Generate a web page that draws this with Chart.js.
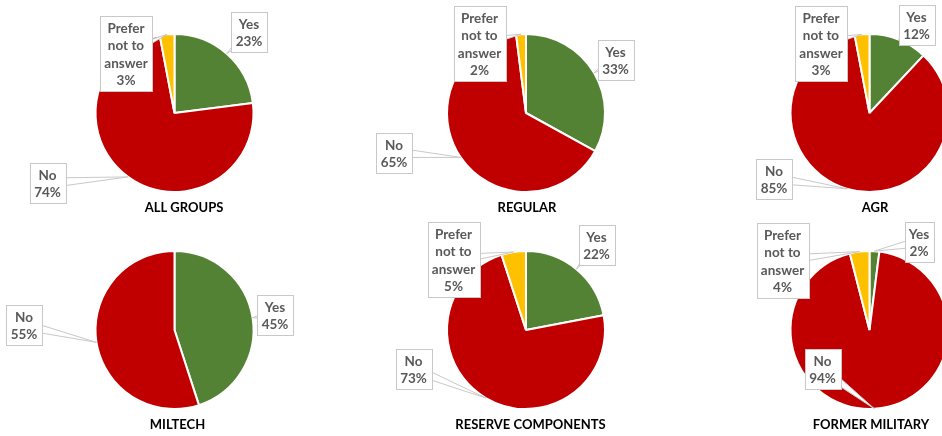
<!DOCTYPE html>
<html>
<head>
<meta charset="utf-8">
<script src="https://cdn.jsdelivr.net/npm/chart.js@4.4.0/dist/chart.umd.min.js"></script>
<style>
html, body { margin: 0; padding: 0; background: #fff; overflow: hidden; }
#wrap { position: relative; width: 942px; height: 436px; overflow: hidden; }
#wrap canvas { position: absolute; left: 0; top: 0; }
</style>
</head>
<body>
<div id="wrap"></div>
<script>
// Daten
const categories = ['Yes', 'No', 'Prefer not to answer'];
const categoryLines = [['Yes'], ['No'], ['Prefer', 'not to', 'answer']];
const groups = ['ALL GROUPS', 'REGULAR', 'AGR', 'MILTECH', 'RESERVE COMPONENTS', 'FORMER MILITARY'];

const allGroups = [23, 74, 3];
const regular = [33, 65, 2];
const agr = [12, 85, 3];
const miltech = [45, 55, 0];
const reserveComponents = [22, 73, 5];
const formerMilitary = [2, 94, 4];
const groupValues = [allGroups, regular, agr, miltech, reserveComponents, formerMilitary];

const colors = ['#548235', '#C00000', '#FFC000'];

// Layout (Pixel)
const W = 960, H = 436, R = 79;
const pieCenters = [[174.5, 113], [526, 113], [869.5, 113], [174.5, 330], [526, 330], [869.5, 330]];
const titlePos = [[184, 208], [527, 208], [875, 208], [177.5, 425], [530.5, 425], [871, 425]];
// Mittelpunkte der Beschriftungsboxen: Yes, No, Prefer
const boxCenters = [
    [[249, 32], [47.5, 183], [126, 53]],
    [[615.5, 60], [394, 152.5], [479.5, 43]],
    [[916.5, 25], [774, 178.5], [821, 43]],
    [[275, 315], [24, 325], null],
    [[596.5, 245], [413.5, 369], [453.5, 259.5]],
    [[919, 242], [822.5, 369], [782.5, 260]]
];

const FONT = 'bold 13.5px Lato, "Liberation Sans", sans-serif';
const LINE_H = 17.5;

function makeCallouts(g) {
    return {
        id: 'callouts' + g,
        afterDatasetsDraw(chart) {
            const ctx = chart.ctx;
            const meta = chart.getDatasetMeta(0);
            const values = chart.data.datasets[0].data;
            ctx.save();
            ctx.font = FONT;
            ctx.lineWidth = 1;
            ctx.strokeStyle = '#c8c8c8';
            meta.data.forEach((arc, i) => {
                const bc = boxCenters[g][i];
                if (!values[i] || !bc) return;
                const p = arc.getProps(['x', 'y', 'startAngle', 'endAngle', 'outerRadius'], true);
                const mid = (p.startAngle + p.endAngle) / 2;
                const tx = p.x + Math.cos(mid) * p.outerRadius;
                const ty = p.y + Math.sin(mid) * p.outerRadius;

                const lines = categoryLines[i].concat([values[i] + '%']);
                const tw = Math.max(...lines.map(l => ctx.measureText(l).width));
                const bw = Math.round(tw + 9);
                const bh = Math.round(lines.length * LINE_H + 5);
                const bx = Math.round(bc[0] - bw / 2) + 0.5;
                const by = Math.round(bc[1] - bh / 2) + 0.5;

                // Zeiger (Keil)
                const dx = tx - bc[0], dy = ty - bc[1];
                const len = Math.hypot(dx, dy) || 1;
                const nx = -dy / len * 5, ny = dx / len * 5;
                ctx.beginPath();
                ctx.moveTo(bc[0] + nx, bc[1] + ny);
                ctx.lineTo(tx, ty);
                ctx.lineTo(bc[0] - nx, bc[1] - ny);
                ctx.closePath();
                ctx.fillStyle = '#fff';
                ctx.fill();
                ctx.stroke();

                // Box
                ctx.fillStyle = '#fff';
                ctx.fillRect(bx, by, bw, bh);
                ctx.strokeRect(bx, by, bw, bh);

                ctx.fillStyle = '#595959';
                ctx.textAlign = 'center';
                ctx.textBaseline = 'middle';
                lines.forEach((l, k) => {
                    ctx.fillText(l, bc[0], by + 3 + LINE_H * (k + 0.5));
                });
            });

            // Titel
            ctx.font = 'bold 13px Lato, "Liberation Sans", sans-serif';
            ctx.fillStyle = '#000';
            ctx.textAlign = 'center';
            ctx.textBaseline = 'middle';
            ctx.fillText(groups[g], titlePos[g][0], titlePos[g][1]);
            ctx.restore();
        }
    };
}

const wrap = document.getElementById('wrap');
groups.forEach((name, g) => {
    const canvas = document.createElement('canvas');
    canvas.width = W;
    canvas.height = H;
    canvas.style.width = W + 'px';
    canvas.style.height = H + 'px';
    wrap.appendChild(canvas);

    const [cx, cy] = pieCenters[g];
    new Chart(canvas.getContext('2d'), {
        type: 'pie',
        data: {
            labels: categories,
            datasets: [{
                data: groupValues[g],
                backgroundColor: colors,
                borderColor: '#ffffff',
                borderWidth: 2
            }]
        },
        options: {
            responsive: false,
            animation: false,
            radius: R,
            layout: {
                padding: {
                    left: cx - 80,
                    top: cy - 80,
                    right: W - (cx + 80),
                    bottom: H - (cy + 80)
                }
            },
            plugins: {
                legend: { display: false },
                tooltip: { enabled: false },
                title: { display: false }
            }
        },
        plugins: [makeCallouts(g)]
    });
});
</script>
</body>
</html>
